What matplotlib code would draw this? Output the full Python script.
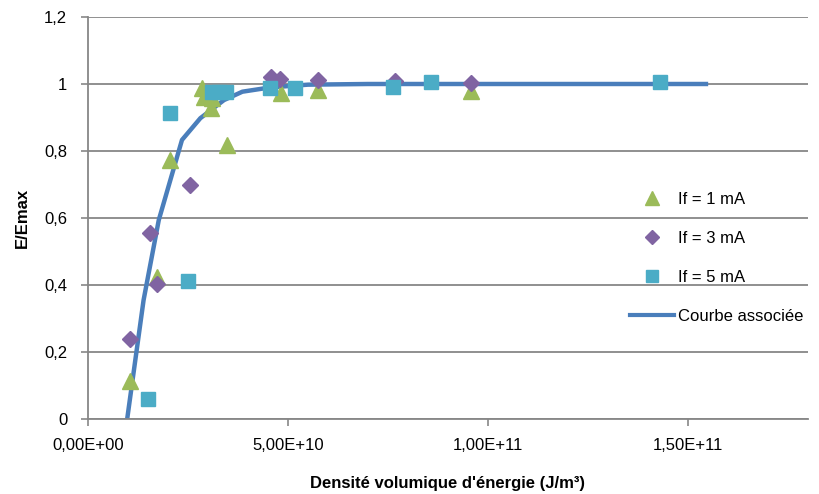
import matplotlib
matplotlib.use("Agg")
import matplotlib.pyplot as plt
from matplotlib.lines import Line2D

# données
x_if1 = [1.04e10, 1.73e10, 2.06e10, 2.86e10, 2.89e10, 3.07e10, 3.11e10, 3.48e10, 4.82e10, 5.75e10, 9.58e10]
y_if1 = [0.114, 0.425, 0.773, 0.987, 0.962, 0.927, 0.957, 0.818, 0.972, 0.982, 0.98]

x_if3 = [1.04e10, 1.54e10, 1.73e10, 2.55e10, 4.57e10, 4.81e10, 5.75e10, 7.67e10, 9.58e10]
y_if3 = [0.238, 0.554, 0.403, 0.699, 1.022, 1.014, 1.012, 1.01, 1.004]

x_if5 = [1.5e10, 2.04e10, 2.5e10, 3.11e10, 3.27e10, 3.46e10, 4.56e10, 5.18e10, 7.63e10, 8.57e10, 1.43e11]
y_if5 = [0.059, 0.912, 0.413, 0.977, 0.977, 0.975, 0.987, 0.987, 0.992, 1.007, 1.007]

x_courbe = [0.98e10, 1.39e10, 1.77e10, 2.35e10, 2.81e10, 3.4e10, 3.86e10, 4.57e10, 5.5e10, 7e10, 1.545e11]
y_courbe = [0, 0.355, 0.594, 0.833, 0.898, 0.952, 0.977, 0.99, 0.998, 1.0, 1.0]

xticks = [0, 5e10, 1e11, 1.5e11]
xtick_labels = ["0,00E+00", "5,00E+10", "1,00E+11", "1,50E+11"]
yticks = [0, 0.2, 0.4, 0.6, 0.8, 1.0, 1.2]
ytick_labels = ["0", "0,2", "0,4", "0,6", "0,8", "1", "1,2"]

plt.rcParams['font.family'] = ['Liberation Sans', 'DejaVu Sans']

vert = "#9BBB59"
violet = "#8064A2"
cyan = "#4BACC6"
bleu = "#4A7EBB"
gris = "#878787"

fig = plt.figure(figsize=(8.2, 4.94), dpi=100)
ax = fig.add_axes([0.1073, 0.1518, 0.878, 0.8138])

ax.plot(x_courbe, y_courbe, color=bleu, lw=3.2, zorder=2)
ax.plot(x_if1, y_if1, ls="none", marker="^", ms=11, color=vert, zorder=3)
ax.plot(x_if3, y_if3, ls="none", marker="D", ms=8.5, color=violet, zorder=4)
ax.plot(x_if5, y_if5, ls="none", marker="s", ms=10, color=cyan, zorder=5)

ax.set_xlim(0, 1.8e11)
ax.set_ylim(0, 1.2)
ax.set_xticks(xticks)
ax.set_xticklabels(xtick_labels)
ax.set_yticks(yticks)
ax.set_yticklabels(ytick_labels)
ax.grid(axis="y", color=gris, lw=1.3, zorder=0)
ax.set_axisbelow(True)
ax.tick_params(axis="both", labelsize=12, length=5, color=gris, width=1.2)
ax.tick_params(axis="x", pad=9)
ax.tick_params(axis="y", pad=10)
for s in ["top", "right"]:
    ax.spines[s].set_visible(False)
for s in ["left", "bottom"]:
    ax.spines[s].set_color(gris)
    ax.spines[s].set_linewidth(1.3)

ax.set_xlabel("Densité volumique d'énergie (J/m³)", fontsize=12, fontweight="bold", labelpad=16)
ax.set_ylabel("E/Emax", fontsize=12, fontweight="bold", labelpad=10)

handles = [
    Line2D([], [], ls="none", marker="^", ms=10, color=vert),
    Line2D([], [], ls="none", marker="D", ms=7.5, color=violet),
    Line2D([], [], ls="none", marker="s", ms=8, color=cyan),
    Line2D([], [], color=bleu, lw=3),
]
labels = ["If = 1 mA", "If = 3 mA", "If = 5 mA", "Courbe associée"]
ax.legend(handles, labels, loc="upper left", bbox_to_anchor=(0.732, 0.603), frameon=False,
          fontsize=12, labelspacing=1.45, handlelength=2.64, handletextpad=0.25)

fig.savefig("out.png", dpi=100)
